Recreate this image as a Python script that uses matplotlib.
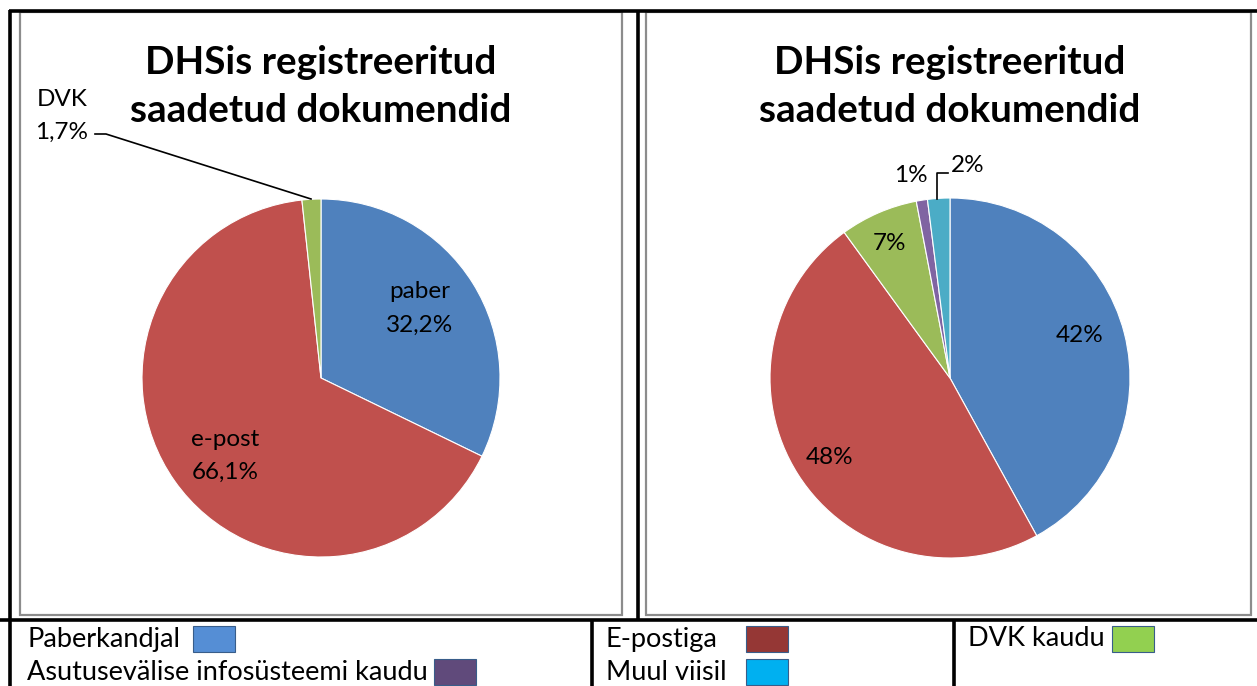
import matplotlib
matplotlib.use("Agg")
import matplotlib.pyplot as plt
from matplotlib.patches import Rectangle

W, H = 1257, 686

# ---- data ----
title = "DHSis registreeritud\nsaadetud dokumendid"
left_labels = ["paber", "e-post", "DVK"]
left_values = [32.2, 66.1, 1.7]
left_value_text = ["32,2%", "66,1%", "1,7%"]
left_colors = ["#4F81BD", "#C0504D", "#9BBB59"]

right_values = [42, 48, 7, 1, 2]
right_value_text = ["42%", "48%", "7%", "1%", "2%"]
right_colors = ["#4F81BD", "#C0504D", "#9BBB59", "#8064A2", "#4BACC6"]

legend_labels = ["Paberkandjal", "E-postiga", "DVK kaudu",
                 "Asutusevälise infosüsteemi kaudu", "Muul viisil"]
legend_colors = ["#558ED5", "#953735", "#92D050", "#604A7B", "#00B0F0"]

FONT = "Lato"

fig = plt.figure(figsize=(W / 100, H / 100), dpi=100)
ax = fig.add_axes([0, 0, 1, 1])


def Y(y):
    return H - y


# ---- pies ----
ax.pie(left_values, colors=left_colors, startangle=90, counterclock=False,
       center=(321, Y(378)), radius=179, frame=False,
       wedgeprops=dict(linewidth=0.8, edgecolor="white"))
ax.pie(right_values, colors=right_colors, startangle=90, counterclock=False,
       center=(950, Y(378)), radius=180, frame=False,
       wedgeprops=dict(linewidth=0.8, edgecolor="white"))
ax.set_xlim(0, W)
ax.set_ylim(0, H)
ax.set_aspect("auto")
ax.axis("off")

# ---- table borders ----
blk = dict(color="black", lw=2.6, solid_capstyle="butt")
ax.plot([9, W], [Y(11), Y(11)], **blk)
ax.plot([10, 10], [Y(10), 0], **blk)
ax.plot([638, 638], [Y(10), Y(620)], **blk)
ax.plot([0, W], [Y(620), Y(620)], **blk)
ax.plot([592, 592], [Y(620), 0], **blk)
ax.plot([954, 954], [Y(620), 0], **blk)

# chart frames (grey)
for x0, x1 in [(20, 622), (646, 1251)]:
    ax.add_patch(Rectangle((x0, Y(615)), x1 - x0, 615 - 12, fill=False,
                           edgecolor="#8C8C8C", lw=1.6))

# ---- titles ----
for cx in (321, 950):
    ax.text(cx, Y(62), title.split("\n")[0], ha="center", va="center",
            fontsize=27.8, fontweight="bold", family=FONT, color="black")
    ax.text(cx, Y(110), title.split("\n")[1], ha="center", va="center",
            fontsize=27.8, fontweight="bold", family=FONT, color="black")

# ---- left pie labels ----
lab_fs = 17.5


def two_line(x, yc, a, b):
    ax.text(x, Y(yc - 16), a, ha="center", va="center", fontsize=lab_fs,
            family=FONT)
    ax.text(x, Y(yc + 17), b, ha="center", va="center", fontsize=lab_fs,
            family=FONT)


two_line(420, 308, left_labels[0], left_value_text[0])
two_line(225, 455, left_labels[1], left_value_text[1])
two_line(62, 115, left_labels[2], left_value_text[2])
ax.plot([95, 106, 311], [Y(134), Y(134), Y(199)], color="black", lw=1.2)

# ---- right pie labels ----
ax.text(1080, Y(335), right_value_text[0], ha="center", va="center",
        fontsize=lab_fs, family=FONT)
ax.text(830, Y(458), right_value_text[1], ha="center", va="center",
        fontsize=lab_fs, family=FONT)
ax.text(890, Y(244), right_value_text[2], ha="center", va="center",
        fontsize=lab_fs, family=FONT)
ax.text(911, Y(175), right_value_text[3], ha="center", va="center",
        fontsize=lab_fs, family=FONT)
ax.text(968, Y(165), right_value_text[4], ha="center", va="center",
        fontsize=lab_fs, family=FONT)
ax.plot([937, 937, 948], [Y(199), Y(173), Y(173)], color="black", lw=1.2)

# ---- legend row ----
leg_fs = 19.5
leg_pos = [(27, 639, 193), (606, 639, 746), (968, 639, 1112),
           (27, 672, 434), (606, 672, 746)]
for (tx, ty, sx), lab, col in zip(leg_pos, legend_labels, legend_colors):
    ax.text(tx, Y(ty), lab, ha="left", va="center", fontsize=leg_fs,
            family=FONT, color="black")
    ax.add_patch(Rectangle((sx, Y(ty + 13)), 42, 26, facecolor=col,
                           edgecolor="#385D8A", lw=0.8))

fig.savefig("out.png", dpi=100)
